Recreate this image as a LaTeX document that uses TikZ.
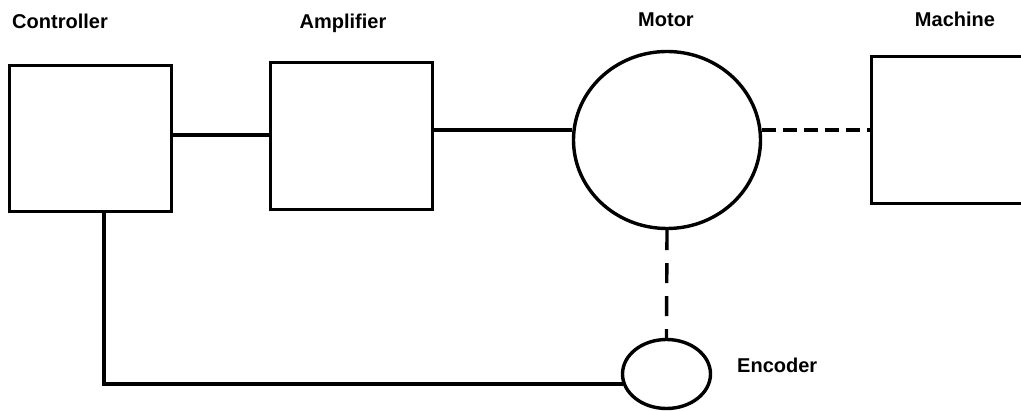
\documentclass[tikz,border=0pt]{standalone}
\usepackage{fontspec}
\setmainfont{Liberation Sans}
\usetikzlibrary{shapes.geometric}
\begin{document}
\begin{tikzpicture}[x=1pt,y=-1pt,
  blk/.style={draw,line width=3.4pt,rectangle,inner sep=0pt,anchor=center},
  rnd/.style={draw,line width=3.4pt,ellipse,inner sep=0pt,anchor=center},
  lbl/.style={font=\fontsize{20}{24}\selectfont\bfseries,inner sep=0pt,anchor=base},
  wire/.style={line width=3.4pt},
  hdash/.style={line width=3.4pt,dash pattern=on 14pt off 7pt},
  vdash/.style={line width=3.4pt,dash pattern=on 20pt off 13pt}]
\clip (0,0) rectangle (1021,411);
\useasboundingbox (0,0) rectangle (1021,411);
\fill[white] (0,0) rectangle (1021,411);
% blocks
\node[blk,minimum width=162pt,minimum height=146pt] (ctrl) at (90.5,138.5) {};
\node[blk,minimum width=162pt,minimum height=147pt] (amp) at (351.5,136) {};
\node[rnd,minimum width=187pt,minimum height=177pt] (motor) at (667,140) {};
\node[blk,minimum width=170pt,minimum height=147pt,anchor=west] (mach) at (869.5,130) {};
\node[rnd,minimum width=88pt,minimum height=69pt] (enc) at (666.5,374) {};
% labels
\node[lbl] (lctrl) at (60,29) {Controller};
\node[lbl] (lamp) at (343,29) {Amplifier};
\node[lbl] (lmotor) at (666,27) {Motor};
\node[lbl] (lmach) at (955,27) {Machine};
\node[lbl,anchor=base west] (lenc) at (737,373) {Encoder};
% connectors
\draw[wire] ([yshift=3.5pt]ctrl.east) -- ([yshift=3.5pt]ctrl.east -| amp.west);
\draw[wire] (motor.174.5) -- (motor.174.5 -| amp.east);
\draw[hdash] (motor.6.8) -- (motor.6.8 -| mach.west);
\draw[vdash] (motor.south) -- (enc.north);
\draw[wire] ([xshift=13.5pt]ctrl.south) |- (enc.193.4);
\end{tikzpicture}
\end{document}
